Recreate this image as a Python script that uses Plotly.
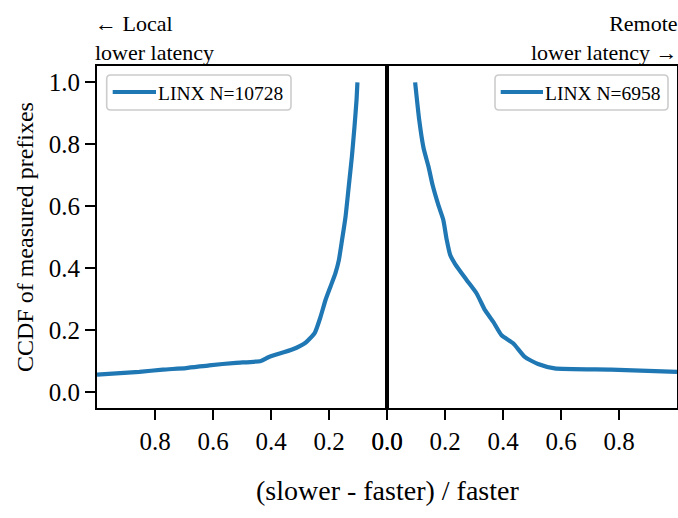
import plotly.graph_objects as go
from plotly.subplots import make_subplots

# ---- data ----
left_label = "LINX N=10728"
left_x = [1.0, 0.854, 0.773, 0.693, 0.613, 0.521, 0.435, 0.407, 0.327, 0.281, 0.249,
          0.229, 0.212, 0.195, 0.178, 0.166, 0.155, 0.143, 0.132, 0.121, 0.112, 0.105, 0.102]
left_y = [0.056, 0.065, 0.072, 0.077, 0.086, 0.094, 0.100, 0.113, 0.137, 0.159, 0.191,
          0.243, 0.297, 0.340, 0.383, 0.426, 0.491, 0.566, 0.663, 0.761, 0.858, 0.944, 1.0]

right_label = "LINX N=6958"
right_x = [0.097, 0.111, 0.126, 0.143, 0.157, 0.177, 0.194, 0.206, 0.218, 0.235, 0.275,
           0.309, 0.338, 0.366, 0.395, 0.435, 0.475, 0.521, 0.578, 0.773, 1.0]
right_y = [1.0, 0.879, 0.788, 0.728, 0.669, 0.604, 0.556, 0.491, 0.442, 0.413, 0.361,
           0.318, 0.264, 0.227, 0.183, 0.157, 0.113, 0.090, 0.076, 0.072, 0.065]

left_ticks = [0.8, 0.6, 0.4, 0.2, 0.0]
right_ticks = [0.0, 0.2, 0.4, 0.6, 0.8]
y_ticks = [0.0, 0.2, 0.4, 0.6, 0.8, 1.0]

x_title = "(slower - faster) / faster"
y_title = "CCDF of measured prefixes"
left_note = "\u2190 Local<br>lower latency"
right_note = "Remote<br>lower latency \u2192"

# ---- layout constants ----
W, H = 678, 518
ML, MR, MT, MB = 97, 1, 66, 110
PW, PH = W - ML - MR, H - MT - MB
FONT = "Liberation Serif"
BLUE = "#1f77b4"


def px(xp):
    return (xp - ML) / PW


def py(yp):
    return (H - MB - yp) / PH


fig = make_subplots(rows=1, cols=2, shared_yaxes=True, horizontal_spacing=0)

line_style = dict(color=BLUE, width=4.2, shape="spline", smoothing=0.5)
fig.add_trace(go.Scatter(x=left_x, y=left_y, mode="lines", name=left_label,
                         line=line_style, showlegend=False), row=1, col=1)
fig.add_trace(go.Scatter(x=right_x, y=right_y, mode="lines", name=right_label,
                         line=line_style, showlegend=False), row=1, col=2)

axis_common = dict(showline=True, linecolor="black", linewidth=2.2, mirror=True,
                   ticks="outside", ticklen=10, tickwidth=2, tickcolor="black",
                   showgrid=False, zeroline=False, automargin=False,
                   tickfont=dict(family=FONT, size=25, color="black"))

fig.update_xaxes(range=[1.0, 0.0], tickvals=left_ticks, tickformat=".1f",
                 domain=[0, 0.5], row=1, col=1, **axis_common)
fig.update_xaxes(range=[0.0, 1.0], tickvals=right_ticks, tickformat=".1f",
                 domain=[0.5, 1.0], row=1, col=2, **axis_common)
fig.update_yaxes(range=[-0.052, 1.053], tickvals=y_ticks, tickformat=".1f",
                 row=1, col=1, **axis_common)
fig.update_yaxes(range=[-0.052, 1.053], showticklabels=False, ticks="",
                 showline=True, linecolor="black", linewidth=2.2, mirror=True,
                 showgrid=False, zeroline=False, automargin=False, row=1, col=2)


# ---- legends drawn as boxes ----
def rounded_rect(x0, y0, x1, y1, r=4):
    X = lambda v: px(v)
    Y = lambda v: py(v)
    return (f"M {X(x0 + r)} {Y(y0)} L {X(x1 - r)} {Y(y0)} Q {X(x1)} {Y(y0)} {X(x1)} {Y(y0 + r)} "
            f"L {X(x1)} {Y(y1 - r)} Q {X(x1)} {Y(y1)} {X(x1 - r)} {Y(y1)} "
            f"L {X(x0 + r)} {Y(y1)} Q {X(x0)} {Y(y1)} {X(x0)} {Y(y1 - r)} "
            f"L {X(x0)} {Y(y0 + r)} Q {X(x0)} {Y(y0)} {X(x0 + r)} {Y(y0)} Z")


legends = [
    (106.7, 291.0, 112.7, 156.0, left_label),
    (495.0, 668.0, 500.7, 543.0, right_label),
]
shapes = []
annotations = []
for bx0, bx1, lx0, lx1, label in legends:
    shapes.append(dict(type="path", xref="paper", yref="paper",
                       path=rounded_rect(bx0, 75, bx1, 110),
                       line=dict(color="#cccccc", width=1.6), fillcolor="rgba(255,255,255,0.8)"))
    shapes.append(dict(type="line", xref="paper", yref="paper",
                       x0=px(lx0), x1=px(lx1), y0=py(92), y1=py(92),
                       line=dict(color=BLUE, width=4.2)))
    annotations.append(dict(text=label, xref="paper", yref="paper", x=px(lx1), y=py(93),
                            xanchor="left", yanchor="middle", showarrow=False,
                            font=dict(family=FONT, size=19.5, color="black")))

note_font = dict(family=FONT, size=22, color="black")
annotations.append(dict(text=left_note, xref="paper", yref="paper", x=px(94), y=py(38),
                        xanchor="left", yanchor="middle", align="left", borderpad=0,
                        showarrow=False, font=note_font))
annotations.append(dict(text=right_note, xref="paper", yref="paper", x=px(679), y=py(38),
                        xanchor="right", yanchor="middle", align="right", borderpad=0,
                        showarrow=False, font=note_font))

annotations.append(dict(text=x_title, xref="paper", yref="paper", x=px(388), y=py(490),
                        xanchor="center", yanchor="middle", showarrow=False,
                        font=dict(family=FONT, size=28, color="black")))
annotations.append(dict(text=y_title, xref="paper", yref="paper", x=px(25), y=py(237),
                        xanchor="center", yanchor="middle", textangle=-90, showarrow=False,
                        font=dict(family=FONT, size=24, color="black")))

fig.update_layout(width=W, height=H, margin=dict(l=ML, r=MR, t=MT, b=MB),
                  paper_bgcolor="white", plot_bgcolor="white",
                  shapes=shapes, annotations=annotations, showlegend=False)

fig.write_html("out.html")
